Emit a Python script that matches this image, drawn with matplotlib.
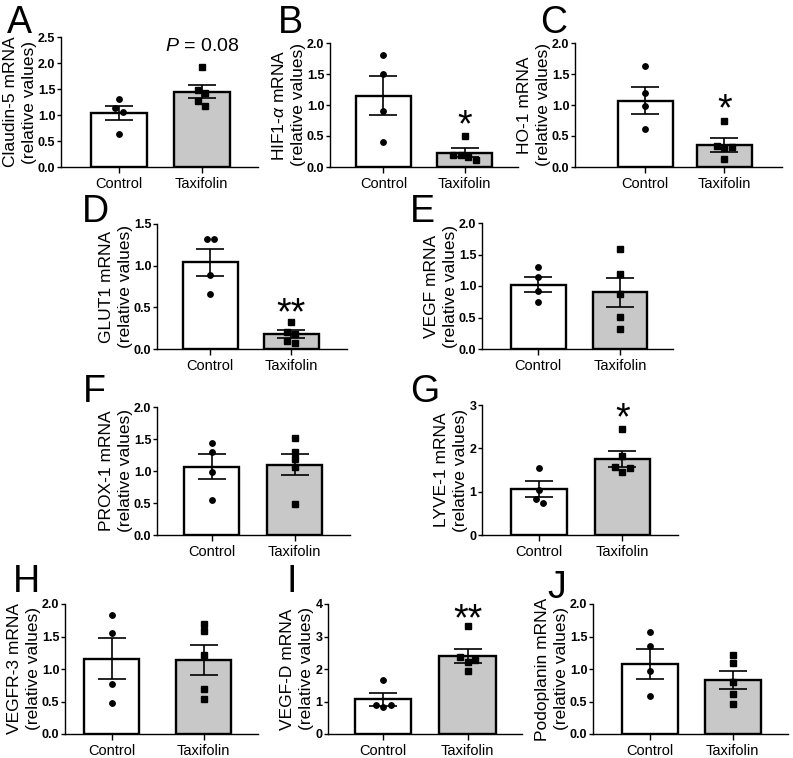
import numpy as np
import matplotlib
matplotlib.use('Agg')
import matplotlib.pyplot as plt

plt.rcParams['font.family'] = ['Liberation Sans', 'DejaVu Sans']
plt.rcParams['mathtext.fontset'] = 'custom'
plt.rcParams['mathtext.rm'] = 'Liberation Sans'
plt.rcParams['mathtext.it'] = 'Liberation Sans:italic'

# data
groups = ['Control', 'Taxifolin']
letters = list('ABCDEFGHIJ')
genes = ['Claudin-5', r'HIF1-$\alpha$', 'HO-1', 'GLUT1', 'VEGF', 'PROX-1',
         'LYVE-1', 'VEGFR-3', 'VEGF-D', 'Podoplanin']

ctrl_points = [[1.31, 1.13, 1.06, 0.63],
               [1.80, 1.50, 0.90, 0.41],
               [1.63, 1.20, 0.98, 0.62],
               [1.32, 1.32, 0.89, 0.66],
               [1.30, 1.14, 0.92, 0.75],
               [1.44, 1.30, 0.99, 0.55],
               [1.54, 1.05, 0.84, 0.75],
               [1.83, 1.56, 0.77, 0.47],
               [1.67, 0.89, 0.89, 0.82],
               [1.57, 1.36, 0.97, 0.59]]
taxi_points = [[1.92, 1.48, 1.42, 1.26, 1.17],
               [0.50, 0.20, 0.20, 0.16, 0.11],
               [0.75, 0.34, 0.33, 0.31, 0.13],
               [0.32, 0.20, 0.18, 0.10, 0.07],
               [1.59, 1.19, 0.87, 0.51, 0.32],
               [1.51, 1.30, 1.18, 1.06, 0.48],
               [2.45, 1.82, 1.56, 1.55, 1.45],
               [1.70, 1.59, 1.21, 0.70, 0.54],
               [3.31, 2.37, 2.28, 2.23, 1.95],
               [1.22, 1.09, 0.80, 0.61, 0.46]]
ctrl_mean = [1.04, 1.15, 1.07, 1.04, 1.02, 1.07, 1.06, 1.16, 1.07, 1.08]
ctrl_sem = [0.14, 0.31, 0.22, 0.16, 0.12, 0.20, 0.18, 0.32, 0.20, 0.23]
taxi_mean = [1.45, 0.23, 0.36, 0.18, 0.90, 1.10, 1.76, 1.14, 2.40, 0.83]
taxi_sem = [0.13, 0.07, 0.11, 0.045, 0.23, 0.17, 0.18, 0.23, 0.22, 0.14]
ymax = [2.5, 2.0, 2.0, 1.5, 2.0, 2.0, 3, 2.0, 4, 2.0]
ystep = [0.5, 0.5, 0.5, 0.5, 0.5, 0.5, 1, 0.5, 1, 0.5]
marks = ['$P$ = 0.08', '*', '*', '**', '', '', '*', '', '**', '']
mark_y = [2.37, 0.84, 1.11, 0.56, 0, 0, 2.93, 0, 3.85, 0]

# layout in pixels: spine x, axis end x, top y, zero y
W, H = 793, 758
boxes = [(61, 258, 37, 167), (330, 518, 43, 167), (575, 782, 43, 167),
         (157, 347, 224, 349), (482, 673, 223, 349),
         (157, 350, 407, 535), (482, 678, 405, 535),
         (65, 258, 604, 734), (328, 522, 604, 734), (593, 788, 604, 734)]
xlims = [(-0.70, 1.68), (-0.66, 1.66), (-0.89, 1.73), (-0.66, 1.69), (-0.69, 1.65),
         (-0.66, 1.67), (-0.69, 1.67), (-0.51, 1.59), (-0.65, 1.64), (-0.69, 1.67)]
barw = [0.68, 0.68, 0.70, 0.68, 0.67, 0.66, 0.67, 0.60, 0.67, 0.68]
letter_pos = [(7, 33), (278, 33), (540, 33), (82, 222), (410, 222),
              (83, 402), (410, 402), (13, 592), (286, 592), (547, 598)]


def swarm(vals, py, px, thr=6.5, d=7.5):
    # simple prism-like spreading of points that sit too close together
    vals = np.asarray(vals)
    order = np.argsort(-vals, kind='stable')
    offs = np.zeros(len(vals))
    clusters, cur = [], [order[0]]
    for a, b in zip(order[:-1], order[1:]):
        if (vals[a] - vals[b]) * py < thr:
            cur.append(b)
        else:
            clusters.append(cur)
            cur = [b]
    clusters.append(cur)
    for c in clusters:
        n = len(c)
        slots = [-1, 1, 0] if n == 3 else list(np.arange(n) - (n - 1) / 2)
        for i, s in zip(c, slots):
            offs[i] = s * d / px
    return offs


fig = plt.figure(figsize=(W / 100, H / 100), dpi=100)

for k in range(10):
    x0, x1, yt, yz = boxes[k]
    ax = fig.add_axes([x0 / W, 1 - yz / H, (x1 - x0) / W, (yz - yt) / H])
    xl, xr = xlims[k]
    ax.set_xlim(xl, xr)
    ax.set_ylim(0, ymax[k])
    py = (yz - yt) / ymax[k]
    px = (x1 - x0) / (xr - xl)

    ax.bar([0, 1], [ctrl_mean[k], taxi_mean[k]], width=barw[k],
           color=['white', '#c8c8c8'], edgecolor='black', linewidth=1.7, zorder=2)
    ax.errorbar([0, 1], [ctrl_mean[k], taxi_mean[k]], yerr=[ctrl_sem[k], taxi_sem[k]],
                fmt='none', ecolor='black', elinewidth=1.2, capsize=10, capthick=1.2, zorder=3)

    cp = ctrl_points[k]
    tp = taxi_points[k]
    ax.plot(0 + swarm(cp, py, px), cp, 'o', color='black', ms=3.9, zorder=4, clip_on=False)
    ax.plot(1 + swarm(tp, py, px), tp, 's', color='black', ms=3.7, zorder=4, clip_on=False)

    if marks[k]:
        if marks[k].startswith('$P'):
            fs, up = 14, 0.36
        else:
            fs, up = 27, 0.58
        ax.annotate(marks[k], xy=(1, mark_y[k]), xytext=(0, -up * fs),
                    textcoords='offset points', ha='center', va='baseline',
                    fontsize=fs, annotation_clip=False)

    ticks = np.arange(0, ymax[k] + 1e-9, ystep[k])
    ax.set_yticks(ticks)
    if ystep[k] < 1:
        ax.set_yticklabels(['%.1f' % t for t in ticks], fontweight='bold', fontsize=9)
    else:
        ax.set_yticklabels(['%d' % t for t in ticks], fontweight='bold', fontsize=9)
    ax.set_xticks([0, 1])
    ax.set_xticklabels(groups, fontsize=10.5)
    ax.tick_params(axis='y', length=3, width=1, pad=1)
    ax.tick_params(axis='x', length=4, width=1, pad=3.5)
    for s in ['top', 'right']:
        ax.spines[s].set_visible(False)
    for s in ['left', 'bottom']:
        ax.spines[s].set_linewidth(1.0)
    ax.set_ylabel(genes[k] + ' mRNA\n(relative values)', fontsize=12.5,
                  labelpad=1, linespacing=1.3)

    lx, ly = letter_pos[k]
    fig.text(lx / W, 1 - ly / H, letters[k], fontsize=27, ha='left', va='baseline')

fig.savefig('out.png', dpi=100)
